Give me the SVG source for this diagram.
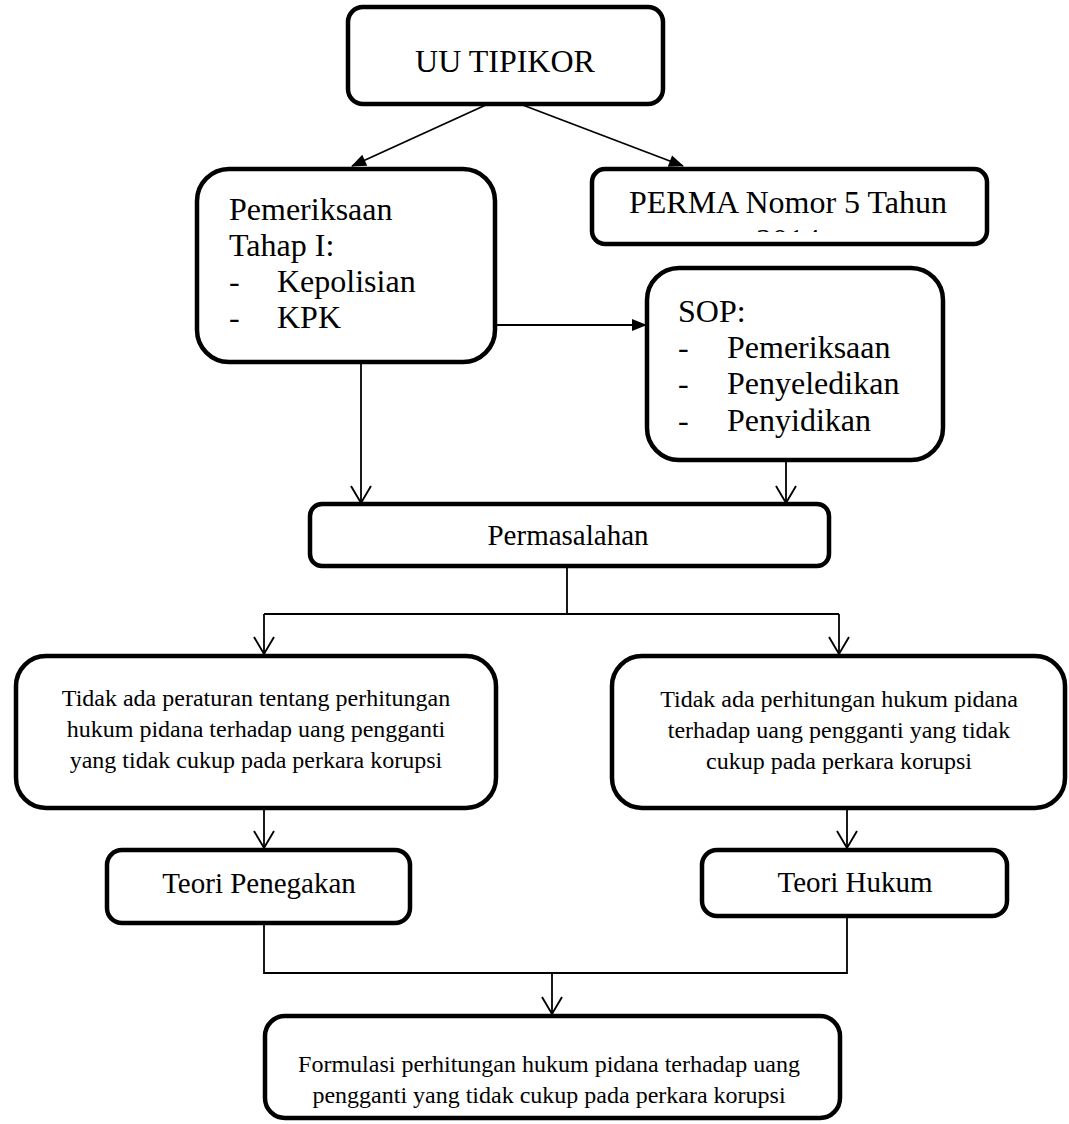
<svg xmlns="http://www.w3.org/2000/svg" width="1069" height="1124" viewBox="0 0 1069 1124">
<style>
.box{fill:#fff;stroke:#000;stroke-width:4.5}
.t{font-family:"Liberation Serif","Times New Roman",serif;fill:#000}
.big{font-size:32px}
.mid{font-size:29px}
.sm{font-size:24px}
.c{text-anchor:middle}
.con{fill:none;stroke:#000;stroke-width:1.8}
</style>
<defs>
<marker id="fa" markerUnits="userSpaceOnUse" markerWidth="16" markerHeight="14" refX="14" refY="6" orient="auto" overflow="visible">
<path d="M0,0 L15,6 L0,12 z" fill="#000"/>
</marker>
<marker id="va" markerUnits="userSpaceOnUse" markerWidth="18" markerHeight="22" refX="17" refY="10" orient="auto" overflow="visible">
<path d="M0,0 L17,10 L0,20" fill="none" stroke="#000" stroke-width="1.9"/>
</marker>
<clipPath id="permaclip"><rect x="592" y="168" width="395" height="64"/></clipPath>
</defs>
<rect width="1069" height="1124" fill="#fff"/>

<g id="connectors">
<line class="con" x1="488" y1="104" x2="352" y2="166" marker-end="url(#fa)"/>
<line class="con" x1="520" y1="104" x2="683" y2="166" marker-end="url(#fa)"/>
<line class="con" x1="497" y1="325" x2="646" y2="325" marker-end="url(#fa)"/>
<line class="con" x1="361" y1="364" x2="361" y2="503" marker-end="url(#va)"/>
<line class="con" x1="786" y1="462" x2="786" y2="503" marker-end="url(#va)"/>
<path class="con" d="M567,567 V614 M264,614 H839"/>
<line class="con" x1="264" y1="614" x2="264" y2="654" marker-end="url(#va)"/>
<line class="con" x1="839" y1="614" x2="839" y2="654" marker-end="url(#va)"/>
<line class="con" x1="264" y1="810" x2="264" y2="848" marker-end="url(#va)"/>
<line class="con" x1="847" y1="810" x2="847" y2="848" marker-end="url(#va)"/>
<path class="con" d="M264,925 V973 H847 V918"/>
<line class="con" x1="552" y1="973" x2="552" y2="1014" marker-end="url(#va)"/>
</g>

<g id="uu-tipikor">
<rect class="box" x="348" y="7" width="315" height="97" rx="15"/>
<text class="t big c" x="505" y="72">UU TIPIKOR</text>
</g>

<g id="pemeriksaan">
<rect class="box" x="197" y="169" width="298" height="193" rx="32"/>
<text class="t big" x="229" y="220">Pemeriksaan</text>
<text class="t big" x="229" y="256">Tahap I:</text>
<text class="t big" x="229" y="292">-</text>
<text class="t big" x="277" y="292">Kepolisian</text>
<text class="t big" x="229" y="328">-</text>
<text class="t big" x="277" y="328">KPK</text>
</g>

<g id="perma">
<rect class="box" x="592" y="169" width="395" height="75" rx="13"/>
<text class="t big c" x="788" y="213">PERMA Nomor 5 Tahun</text>
<text class="t big c" x="788" y="251" clip-path="url(#permaclip)">2014</text>
</g>

<g id="sop">
<rect class="box" x="647" y="268" width="296" height="192" rx="32"/>
<text class="t big" x="678" y="322">SOP:</text>
<text class="t big" x="678" y="358">-</text>
<text class="t big" x="727" y="358">Pemeriksaan</text>
<text class="t big" x="678" y="394">-</text>
<text class="t big" x="727" y="394">Penyeledikan</text>
<text class="t big" x="678" y="431">-</text>
<text class="t big" x="727" y="431">Penyidikan</text>
</g>

<g id="permasalahan">
<rect class="box" x="310" y="504" width="519" height="62" rx="12"/>
<text class="t mid c" x="568" y="545">Permasalahan</text>
</g>

<g id="masalah-kiri">
<rect class="box" x="16" y="656" width="480" height="152" rx="30"/>
<text class="t sm c" x="256" y="706">Tidak ada peraturan tentang perhitungan</text>
<text class="t sm c" x="256" y="737">hukum pidana terhadap uang pengganti</text>
<text class="t sm c" x="256" y="768">yang tidak cukup pada perkara korupsi</text>
</g>

<g id="masalah-kanan">
<rect class="box" x="612" y="656" width="453" height="152" rx="30"/>
<text class="t sm c" x="839" y="707">Tidak ada perhitungan hukum pidana</text>
<text class="t sm c" x="839" y="738">terhadap uang pengganti yang tidak</text>
<text class="t sm c" x="839" y="769">cukup pada perkara korupsi</text>
</g>

<g id="teori-penegakan">
<rect class="box" x="107" y="850" width="303" height="73" rx="15"/>
<text class="t mid c" x="259" y="893">Teori Penegakan</text>
</g>

<g id="teori-hukum">
<rect class="box" x="702" y="850" width="305" height="66" rx="15"/>
<text class="t mid c" x="855" y="892">Teori Hukum</text>
</g>

<g id="formulasi">
<rect class="box" x="265" y="1016" width="575" height="102" rx="20"/>
<text class="t sm c" x="549" y="1072">Formulasi perhitungan hukum pidana terhadap uang</text>
<text class="t sm c" x="549" y="1103">pengganti yang tidak cukup pada perkara korupsi</text>
</g>
</svg>
